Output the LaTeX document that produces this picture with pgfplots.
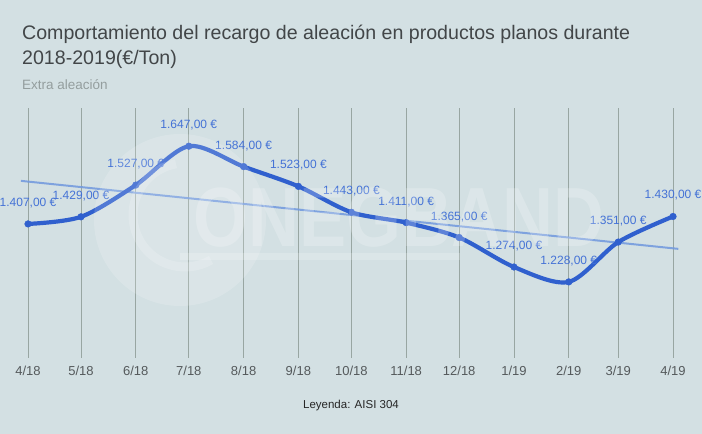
\documentclass[border=0pt]{standalone}
\usepackage{fontspec}
\setmainfont{Liberation Sans}
\usepackage{pgfplots}
\pgfplotsset{compat=1.18}
\definecolor{fondo}{RGB}{211,224,227}
\definecolor{serie}{RGB}{48,96,206}
\definecolor{etiq}{RGB}{68,114,214}
\definecolor{tend}{RGB}{112,152,222}
\definecolor{rejilla}{RGB}{152,166,162}
\definecolor{titulo}{RGB}{66,70,72}
\definecolor{subt}{RGB}{148,158,158}
\definecolor{ticks}{RGB}{85,90,92}

\begin{document}
\begin{tikzpicture}[x=1pt,y=1pt]
\fill[fondo] (0,0) rectangle (702,434);
\path[use as bounding box] (0,0) rectangle (702,434);

\node[anchor=base west, text=titulo, font=\fontsize{19.6}{22}\selectfont, inner sep=0pt]
  at (22,394) {Comportamiento del recargo de aleación en productos planos durante};
\node[anchor=base west, text=titulo, font=\fontsize{19.6}{22}\selectfont, inner sep=0pt]
  at (22,369) {2018-2019(€/Ton)};
\node[anchor=base west, text=subt, font=\fontsize{13.5}{16}\selectfont, inner sep=0pt]
  at (22,344) {Extra aleación};

\begin{axis}[
    at={(0pt,76pt)}, anchor=south west,
    scale only axis, width=702pt, height=250pt,
    xmin=-15.85, xmax=381.4,
    ymin=993, ymax=1765,
    axis line style={draw=none},
    tick style={draw=none},
    ytick=\empty,
    xtick={0,30,61,91,122,153,183,214,244,275,306,334,365},
    xticklabels={4/18,5/18,6/18,7/18,8/18,9/18,10/18,11/18,12/18,1/19,2/19,3/19,4/19},
    xticklabel style={anchor=base, yshift=-18pt, text=ticks, font=\fontsize{13}{15}\selectfont},
    xmajorgrids,
    grid style={rejilla, line width=0.8pt},
    clip=false,
]
% linea de tendencia
\addplot[tend, line width=2pt, opacity=0.85] coordinates {(-4,1540) (368,1330)};

% serie principal (dias desde 1/4/2018)
\addplot[serie, line width=4.2pt, smooth, tension=0.5,
    mark=*, mark size=3.3pt, mark options={fill=serie, draw=serie, line width=0.5pt},
    point meta=y,
    nodes near coords={\pgfmathprintnumber[fixed,fixed zerofill,precision=2,use comma,1000 sep={.},assume math mode=true]{\pgfplotspointmeta}~€},
    every node near coord/.append style={anchor=base, yshift=17.5pt, text=etiq,
        font=\fontsize{12}{14}\selectfont, inner sep=0pt},
] coordinates {
    (0,1407) (30,1429) (61,1527) (91,1647) (122,1584) (153,1523) (183,1443)
    (214,1411) (244,1365) (275,1274) (306,1228) (334,1351) (365,1430)
};
\end{axis}

% marca de agua
\fill[white, opacity=0.16] (180,214) circle (86);
\draw[white, opacity=0.18, line width=9pt] (185,219) ++(100:52) arc (100:300:52);
\fill[white, opacity=0.2] (180,174) rectangle (460,181);
\node[anchor=base west, inner sep=0pt, text=white, opacity=0.22,
      font=\bfseries\fontsize{84}{84}\selectfont] at (193,187) {\scalebox{0.84}[1]{ONEGBAND}};

\node[anchor=base, text=black!85, font=\fontsize{11.5}{14}\selectfont] at (351,25) {Leyenda: AISI 304};
\end{tikzpicture}
\end{document}
